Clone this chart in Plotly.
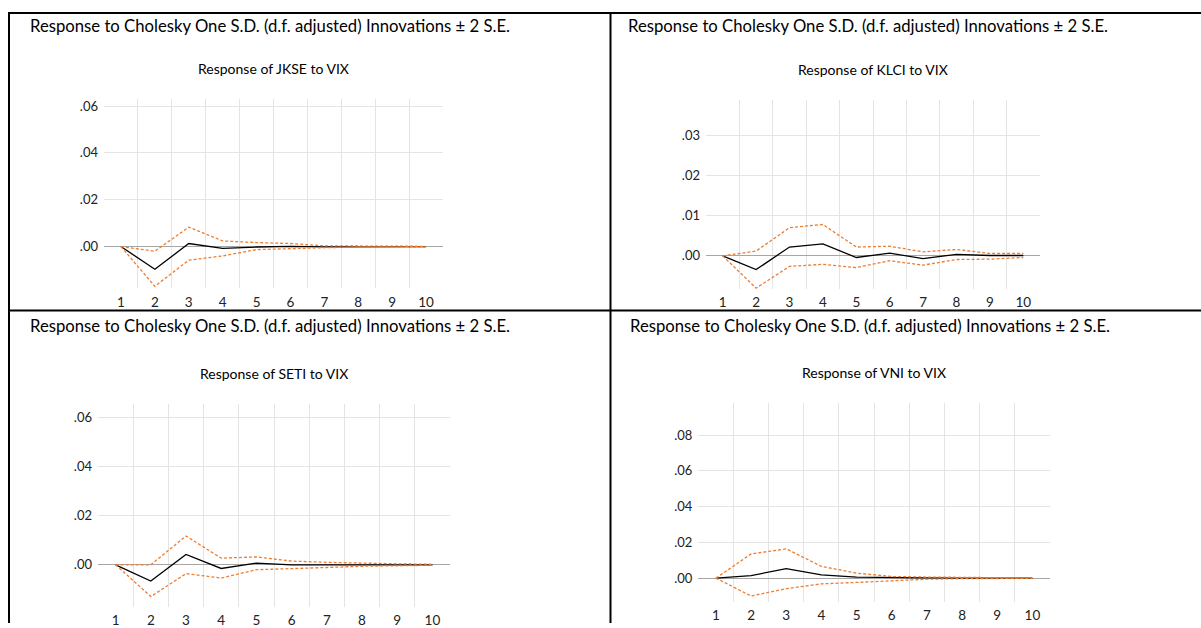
import plotly.graph_objects as go

W, H = 1201, 628

periods = list(range(1, 11))

# Impulse responses to a VIX shock (response, upper band, lower band)
jkse_resp = [0.0, -0.0097, 0.0013, -0.0008, -0.0002, 0.0001, -0.0001, 0.0, 0.0, 0.0]
jkse_upper = [0.0, -0.0020, 0.0083, 0.0024, 0.0017, 0.0013, 0.0003, 0.0002, 0.0001, 0.0001]
jkse_lower = [0.0, -0.0170, -0.0058, -0.0040, -0.0013, -0.0008, -0.0005, -0.0002, -0.0001, -0.0001]

klci_resp = [0.0, -0.0034, 0.0022, 0.0030, -0.0004, 0.0007, -0.0007, 0.0004, 0.0001, 0.0001]
klci_upper = [0.0, 0.0012, 0.0070, 0.0078, 0.0022, 0.0024, 0.0010, 0.0016, 0.0006, 0.0006]
klci_lower = [0.0, -0.0080, -0.0026, -0.0021, -0.0029, -0.0012, -0.0023, -0.0009, -0.0008, -0.0004]

seti_resp = [0.0, -0.0066, 0.0042, -0.0015, 0.0007, 0.0, 0.0, 0.0, 0.0, 0.0]
seti_upper = [0.0, 0.0, 0.0117, 0.0027, 0.0032, 0.0015, 0.0010, 0.0006, 0.0004, 0.0002]
seti_lower = [0.0, -0.0129, -0.0036, -0.0054, -0.0020, -0.0017, -0.0011, -0.0006, -0.0004, -0.0002]

vni_resp = [0.0, 0.0014, 0.0053, 0.0018, 0.0006, 0.0002, 0.0001, 0.0, 0.0, 0.0]
vni_upper = [0.0, 0.0135, 0.0164, 0.0066, 0.0028, 0.0009, 0.0006, 0.0004, 0.0002, 0.0001]
vni_lower = [0.0, -0.0100, -0.0059, -0.0032, -0.0024, -0.0013, -0.0006, -0.0003, -0.0002, -0.0001]

ticks_06 = [0.0, 0.02, 0.04, 0.06]
ticks_06_text = [".00", ".02", ".04", ".06"]
ticks_03 = [0.0, 0.01, 0.02, 0.03]
ticks_03_text = [".00", ".01", ".02", ".03"]
ticks_08 = [0.0, 0.02, 0.04, 0.06, 0.08]
ticks_08_text = [".00", ".02", ".04", ".06", ".08"]

header = "Response to Cholesky One S.D. (d.f. adjusted) Innovations ± 2 S.E."

FONT = "Lato"
ORANGE = "#ED7D31"

# name, series, y range, ticks, plot box in pixels (x0, x1, ytop, ybottom), header centre
panels = [
    ("JKSE", jkse_resp, jkse_upper, jkse_lower, [-0.0178, 0.063], ticks_06, ticks_06_text,
     (104, 443, 99, 290), (270, 25)),
    ("KLCI", klci_resp, klci_upper, klci_lower, [-0.0082, 0.0387], ticks_03, ticks_03_text,
     (706, 1040, 100, 290.7), (868, 25)),
    ("SETI", seti_resp, seti_upper, seti_lower, [-0.0171, 0.0652], ticks_06, ticks_06_text,
     (98, 450, 407.3, 611.7), (270, 328)),
    ("VNI", vni_resp, vni_upper, vni_lower, [-0.0133, 0.0979], ticks_08, ticks_08_text,
     (698.3, 1050, 406, 606.7), (870, 328)),
]

fig = go.Figure()
layout = {}
annotations = []

for i, (name, resp, up, lo, yr, tv, tt, box, hdr) in enumerate(panels):
    n = "" if i == 0 else str(i + 1)
    xa, ya = "x" + n, "y" + n
    x0, x1, yt, yb = box
    for series, color, dash in ((resp, "black", "solid"), (up, ORANGE, "3px,2px"), (lo, ORANGE, "3px,2px")):
        fig.add_trace(go.Scatter(
            x=periods, y=series, mode="lines", xaxis=xa, yaxis=ya,
            line=dict(color=color, width=1.3, dash=dash), showlegend=False,
            hoverinfo="skip",
        ))
    layout["xaxis" + n] = dict(
        domain=[x0 / W, x1 / W], anchor=ya, range=[0.5, 10.5],
        tickvals=periods, ticktext=[str(p) for p in periods],
        showgrid=False, zeroline=False, showline=False, ticks="",
        ticklabelstandoff=4,
        tickfont=dict(family=FONT, size=13.5, color="#222"),
        minor=dict(tickvals=[p + 0.5 for p in periods[:-1]], showgrid=True,
                   gridcolor="#e4e4e4", gridwidth=1, ticks=""),
        fixedrange=True,
    )
    layout["yaxis" + n] = dict(
        domain=[1 - yb / H, 1 - yt / H], anchor=xa, range=yr,
        tickvals=tv, ticktext=tt, showgrid=True, gridcolor="#e4e4e4", gridwidth=1,
        zeroline=True, zerolinecolor="#a6a6a6", zerolinewidth=1.2,
        showline=False, ticks="", ticklabelstandoff=5,
        tickfont=dict(family=FONT, size=13, color="#222"),
        fixedrange=True,
    )
    annotations.append(dict(
        text=header, x=hdr[0] / W, y=1 - hdr[1] / H, xref="paper", yref="paper",
        xanchor="center", yanchor="middle", showarrow=False,
        font=dict(family=FONT, size=16.7, color="black"),
    ))
    annotations.append(dict(
        text=f"Response of {name} to VIX", x=(x0 + x1) / 2 / W, y=1 - (yt - 31) / H,
        xref="paper", yref="paper", xanchor="center", yanchor="middle", showarrow=False,
        font=dict(family=FONT, size=14, color="black"),
    ))

# table borders around the four panels
border = dict(color="black", width=2)
shapes = [
    dict(type="line", xref="paper", yref="paper", x0=8 / W, x1=1, y0=1 - 12 / H, y1=1 - 12 / H, line=border),
    dict(type="line", xref="paper", yref="paper", x0=8 / W, x1=1, y0=1 - 312.5 / H, y1=1 - 312.5 / H, line=border),
    dict(type="line", xref="paper", yref="paper", x0=9 / W, x1=9 / W, y0=0, y1=1 - 12 / H, line=border),
    dict(type="line", xref="paper", yref="paper", x0=610.5 / W, x1=610.5 / W, y0=0, y1=1 - 12 / H, line=border),
]

fig.update_layout(
    width=W, height=H, margin=dict(l=0, r=0, t=0, b=0),
    paper_bgcolor="white", plot_bgcolor="white",
    annotations=annotations, shapes=shapes, **layout,
)

fig.write_html("out.html", config={"displayModeBar": False})
